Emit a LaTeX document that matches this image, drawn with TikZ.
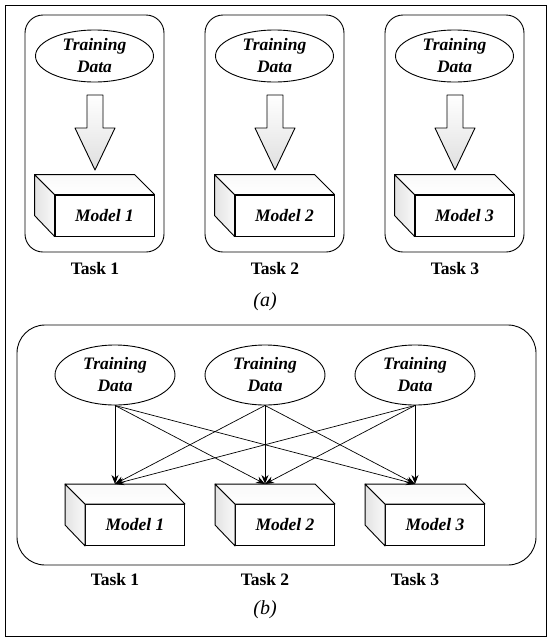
\documentclass[tikz,border=0pt]{standalone}
\usepackage{fontspec}
\setmainfont{Liberation Serif}
\usetikzlibrary{arrows.meta,shapes.geometric}
\newcommand\modelcube[4]{%
  \node[front] (#1) at (#2,#3) {#4};
  \draw[face,left color=gray!22,right color=gray!5] (#1.north west) -- ++(-20,-20) -- ++(0,41) -- (#1.south west) -- cycle;
  \draw[face,top color=gray!5,bottom color=white] (#1.north west) -- ++(-20,-20) -- ++(100,0) -- (#1.north east) -- cycle;
}
\newcommand\blockarrow[2]{%
  \draw[face,top color=white,bottom color=gray!25] (#1-8,#2) -- (#1+8,#2) -- (#1+8,#2+33) -- (#1+20,#2+33) -- (#1,#2+75) -- (#1-20,#2+33) -- (#1-8,#2+33) -- cycle;
}
\begin{document}
\begin{tikzpicture}[x=1pt,y=-1pt,
  panel/.style={draw,line width=0.9pt},
  data/.style={draw,ellipse,line width=0.9pt,fill=white,inner sep=0pt,align=center,
    font=\fontsize{17.5}{22}\selectfont\bfseries\itshape},
  front/.style={draw,line width=0.9pt,fill=white,minimum width=99pt,minimum height=41pt,inner sep=0pt,
    font=\fontsize{17.5}{20}\selectfont\bfseries\itshape},
  face/.style={draw,line width=0.9pt,line join=round},
  tasklbl/.style={font=\fontsize{17.5}{20}\selectfont\bfseries},
  caplbl/.style={font=\fontsize{20}{24}\selectfont\itshape},
  conn/.style={-{Stealth[length=9pt,width=7pt]},line width=0.7pt}
]
\useasboundingbox (0,0) rectangle (552,641);
\draw[line width=0.9pt] (5,5) rectangle (546,636);

% ---------- (a) ----------
\foreach \px in {25,205,385}{
  \draw[panel,rounded corners=18pt] (\px,15) rectangle (\px+139,252);
}
\node[data,minimum width=118pt,minimum height=52pt] (ta1) at (94.5,56) {Training\\Data};
\node[data,minimum width=118pt,minimum height=52pt] (ta2) at (274.5,56) {Training\\Data};
\node[data,minimum width=118pt,minimum height=52pt] (ta3) at (454.5,56) {Training\\Data};
\blockarrow{95}{95}
\blockarrow{275}{95}
\blockarrow{455}{95}
\modelcube{ma1}{104.5}{215.5}{Model 1}
\modelcube{ma2}{284.5}{215.5}{Model 2}
\modelcube{ma3}{464.5}{215.5}{Model 3}
\node[tasklbl] (la1) at (95,269) {Task 1};
\node[tasklbl] (la2) at (275,269) {Task 2};
\node[tasklbl] (la3) at (455,269) {Task 3};
\node[caplbl] (capa) at (265,302) {(a)};

% ---------- (b) ----------
\draw[panel,rounded corners=28pt] (17,325) rectangle (536,565);
\node[data,minimum width=120pt,minimum height=60pt] (tb1) at (115,375) {Training\\Data};
\node[data,minimum width=120pt,minimum height=60pt] (tb2) at (265,375) {Training\\Data};
\node[data,minimum width=120pt,minimum height=60pt] (tb3) at (415,375) {Training\\Data};
\modelcube{mb1}{135}{525}{Model 1}
\modelcube{mb2}{285}{525}{Model 2}
\modelcube{mb3}{435}{525}{Model 3}
\coordinate (tg1) at (115,484);
\coordinate (tg2) at (265,484);
\coordinate (tg3) at (415,484);
\foreach \s in {1,2,3}{
  \foreach \t in {1,2,3}{
    \draw[conn] (tb\s.south) -- (tg\t);
  }
}
\node[tasklbl] (lb1) at (115,580) {Task 1};
\node[tasklbl] (lb2) at (265,580) {Task 2};
\node[tasklbl] (lb3) at (415,580) {Task 3};
\node[caplbl] (capb) at (265,610) {(b)};
\end{tikzpicture}
\end{document}
